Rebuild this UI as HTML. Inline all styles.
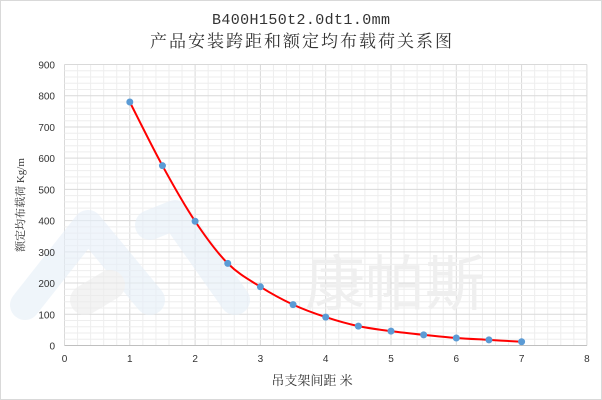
<!DOCTYPE html>
<html><head><meta charset="utf-8"><style>
body{margin:0;background:#fff}
svg{display:block}
text{font-family:"Liberation Serif","Noto Serif CJK SC",serif;fill:#333}
</style></head><body>
<svg id="s" width="602" height="400" viewBox="0 0 602 400">
<rect x="0.5" y="0.5" width="601" height="399" fill="#fff" stroke="#d9d9d9"/>
<g id="grid"></g>
<g opacity="0.6" stroke-linecap="round" stroke-linejoin="round" fill="none">
<path d="M25 305 L88 225 L150 300" stroke="#e6eff8" stroke-width="30"/>
<path d="M150 225 L175 215 L235 300" stroke="#e6eff8" stroke-width="30"/>
<path d="M85 300 L110 285" stroke="#ececec" stroke-width="30"/>
</g>
<text x="305" y="305" font-size="60" style="fill:#efefef;font-family:'Noto Sans CJK SC',sans-serif">康帕斯</text>
<g id="axis"></g>
<path id="curve" fill="none" stroke="#ff0000" stroke-width="2"/>
<g id="pts"></g>
<text x="301" y="24" font-size="15" text-anchor="middle" style="font-family:'Liberation Mono',monospace" textLength="178">B400H150t2.0dt1.0mm</text>
<text x="301" y="47" font-size="17" text-anchor="middle" textLength="302">产品安装跨距和额定均布载荷关系图</text>
<text x="312" y="385" font-size="13" text-anchor="middle">吊支架间距 米</text>
<text transform="translate(24,205) rotate(-90)" font-size="11" text-anchor="middle">额定均布载荷 Kg/m</text>
</svg>
<script>
const X=v=>64.5+v*65.3, Y=v=>345.5-v*0.3122;
const ns="http://www.w3.org/2000/svg";
function el(p,t,a,txt){const e=document.createElementNS(ns,t);for(const k in a)e.setAttribute(k,a[k]);if(txt!=null)e.textContent=txt;document.getElementById(p).appendChild(e);return e;}
for(let i=0;i<=40;i++){const x=X(i*0.2);el("grid","line",{x1:x,x2:x,y1:Y(900),y2:Y(0),stroke:i%5?"#eeeeee":"#d9d9d9","stroke-width":1});}
for(let i=0;i<=45;i++){const y=Y(i*20);el("grid","line",{x1:X(0),x2:X(8),y1:y,y2:y,stroke:i%5?"#eeeeee":"#d9d9d9","stroke-width":1});}
el("axis","line",{x1:X(0),x2:X(8),y1:Y(0),y2:Y(0),stroke:"#bfbfbf"});
for(let i=0;i<=8;i++)el("axis","text",{x:X(i),y:362,"font-size":10,"text-anchor":"middle",style:"font-family:'Liberation Sans',sans-serif"},i);
for(let i=0;i<=9;i++)el("axis","text",{x:55,y:Y(i*100)+4,"font-size":10,"text-anchor":"end",style:"font-family:'Liberation Sans',sans-serif"},i*100);
const d=[[1,780],[1.5,576],[2,398],[2.5,263],[3,188],[3.5,131],[4,91],[4.5,62],[5,46],[5.5,34],[6,24],[6.5,18],[7,12]];
const P=d.map(p=>[X(p[0]),Y(p[1])]);
let s="M"+P[0][0]+" "+P[0][1];
for(let i=0;i<P.length-1;i++){const p0=P[Math.max(0,i-1)],p1=P[i],p2=P[i+1],p3=P[Math.min(P.length-1,i+2)];
s+=` C${p1[0]+(p2[0]-p0[0])/6} ${p1[1]+(p2[1]-p0[1])/6} ${p2[0]-(p3[0]-p1[0])/6} ${p2[1]-(p3[1]-p1[1])/6} ${p2[0]} ${p2[1]}`;}
document.getElementById("curve").setAttribute("d",s);
P.forEach(p=>el("pts","circle",{cx:p[0],cy:p[1],r:3.5,fill:"#5b9bd5"}));
</script>
</body></html>
